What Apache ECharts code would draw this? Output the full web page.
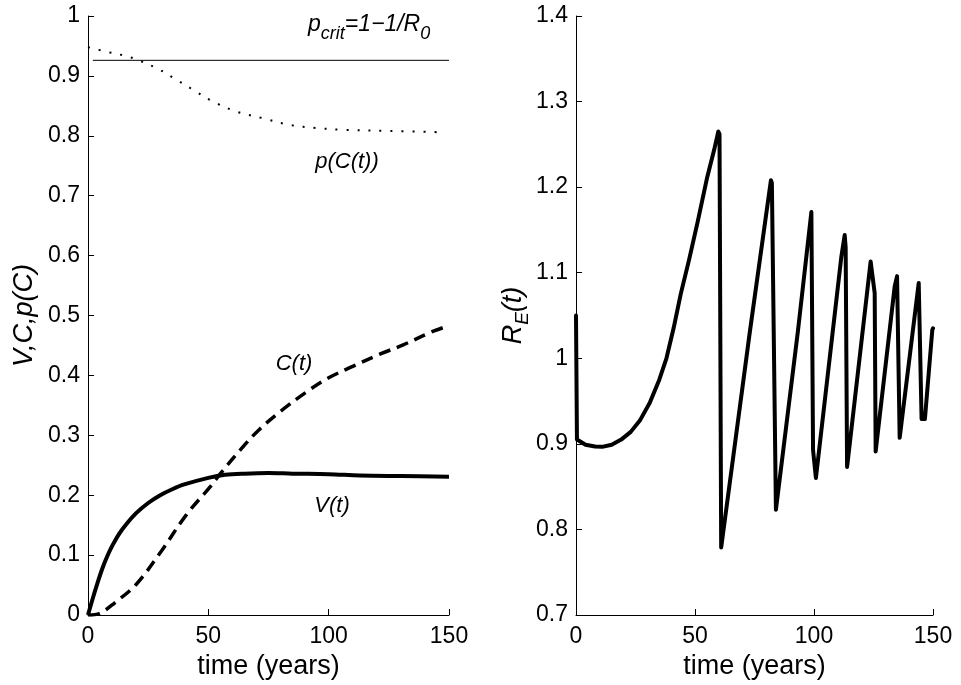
<!DOCTYPE html>
<html>
<head>
<meta charset="utf-8">
<script src="https://cdn.jsdelivr.net/npm/echarts@6/dist/echarts.min.js"></script>
<style>
html,body{margin:0;padding:0;background:#fff;}
#chart{width:961px;height:685px;}
</style>
</head>
<body>
<div id="chart"></div>
<script>
// ---- Left panel data ----
const xTicks = [0, 50, 100, 150];
const pcritT = [2, 150];
const pcritV = [0.926, 0.926];
const pT = [0, 8, 16, 21, 29, 37, 44, 52, 62, 73, 84, 95, 106, 126, 146];
const pV = [0.948, 0.940, 0.933, 0.926, 0.912, 0.893, 0.876, 0.857, 0.840, 0.829, 0.818, 0.813, 0.810, 0.808, 0.806];
const cT = [0, 5, 11, 20, 30, 41, 51, 55, 64, 71, 80, 91, 100, 110, 121, 131, 143, 150];
const cV = [0, 0.003, 0.020, 0.051, 0.104, 0.168, 0.215, 0.236, 0.279, 0.309, 0.340, 0.373, 0.396, 0.415, 0.435, 0.451, 0.473, 0.483];
const vT = [0, 2, 4, 6, 8, 10, 13, 16, 20, 25, 30, 35, 40, 50, 57, 65, 75, 85, 100, 113, 130, 150];
const vV = [0, 0.028, 0.054, 0.078, 0.098, 0.115, 0.136, 0.152, 0.170, 0.187, 0.200, 0.210, 0.218, 0.229, 0.234, 0.236, 0.237, 0.236, 0.235, 0.233, 0.232, 0.231];
// ---- Right panel data ----
const reT = [0, 0.4, 4, 8, 11, 15, 19, 23, 27, 31, 35, 38, 41, 44, 47.5, 51, 55, 58, 59.8, 60.3, 61.0, 73, 81.9, 82.3, 84.0, 93.3, 98.9, 99.6, 100.8, 111.5, 112.9, 113.3, 113.9, 123.8, 125.5, 125.9, 133.9, 134.9, 136.0, 144.0, 145.2, 146.6, 149.7, 150];
const reV = [1.05, 0.905, 0.899, 0.897, 0.8965, 0.899, 0.905, 0.914, 0.928, 0.948, 0.975, 1.0, 1.035, 1.075, 1.115, 1.158, 1.21, 1.243, 1.265, 1.262, 0.779, 1.03, 1.208, 1.205, 0.823, 1.033, 1.171, 0.893, 0.860, 1.119, 1.144, 1.13, 0.873, 1.113, 1.076, 0.891, 1.084, 1.096, 0.907, 1.088, 0.929, 0.929, 1.033, 1.035];

const zip = (a, b) => a.map((t, i) => [t, b[i]]);
const FONT = '"Liberation Sans", Arial, Helvetica, sans-serif';

function xAxisCfg(idx) {
  return {
    gridIndex: idx, type: 'value', min: 0, max: 150, interval: 50,
    axisLine: { onZero: false, lineStyle: { color: '#000', width: 1 } },
    axisTick: { inside: true, length: 6, lineStyle: { color: '#000' } },
    axisLabel: { color: '#000', fontSize: 23, fontFamily: FONT, margin: 10 },
    splitLine: { show: false },
    name: 'time (years)', nameLocation: 'middle', nameGap: 38,
    nameTextStyle: { color: '#000', fontSize: 27, fontFamily: FONT }
  };
}
function yAxisCfg(idx, min, max, name, nameGap, rich) {
  return {
    gridIndex: idx, type: 'value', min: min, max: max, interval: 0.1,
    axisLine: { onZero: false, lineStyle: { color: '#000', width: 1 } },
    axisTick: { inside: true, length: 6, lineStyle: { color: '#000' } },
    axisLabel: { color: '#000', fontSize: 23, fontFamily: FONT, margin: 8 },
    splitLine: { show: false },
    name: name, nameLocation: 'middle', nameGap: nameGap, nameRotate: 90,
    nameTextStyle: Object.assign({ color: '#000', fontSize: 27, fontStyle: 'italic', fontFamily: FONT }, rich ? { rich: rich } : {})
  };
}

const chart = echarts.init(document.getElementById('chart'), null, { renderer: 'canvas' });
const option = {
  animation: false,
  backgroundColor: '#fff',
  grid: [
    { left: 88, top: 16, width: 361, height: 600 },
    { left: 576, top: 16, width: 357, height: 600 }
  ],
  xAxis: [xAxisCfg(0), xAxisCfg(1)],
  yAxis: [
    yAxisCfg(0, 0, 1, 'V,C,p(C)', 50),
    yAxisCfg(1, 0.7, 1.4, '{i|R}{s|E}{i|(t)}', 44, {
      i: { fontSize: 27, fontStyle: 'italic', fontFamily: FONT, color: '#000', lineHeight: 30 },
      s: { fontSize: 19, fontStyle: 'italic', fontFamily: FONT, color: '#000', lineHeight: 19, padding: [18, 0, 0, 0] }
    })
  ],
  series: [
    { type: 'line', xAxisIndex: 0, yAxisIndex: 0, data: zip(pcritT, pcritV), showSymbol: false, symbol: 'none',
      lineStyle: { color: '#000', width: 1 } },
    { type: 'line', xAxisIndex: 0, yAxisIndex: 0, data: zip(pT, pV), showSymbol: false, symbol: 'none',
      smooth: 0.35, lineStyle: { color: '#000', width: 2, type: [2, 9] } },
    { type: 'line', xAxisIndex: 0, yAxisIndex: 0, data: zip(cT, cV), showSymbol: false, symbol: 'none',
      smooth: 0.35, lineStyle: { color: '#000', width: 3.5, type: [12, 7] } },
    { type: 'line', xAxisIndex: 0, yAxisIndex: 0, data: zip(vT, vV), showSymbol: false, symbol: 'none',
      smooth: 0.35, lineStyle: { color: '#000', width: 4 } },
    { type: 'line', xAxisIndex: 1, yAxisIndex: 1, data: zip(reT, reV), showSymbol: false, symbol: 'none',
      lineStyle: { color: '#000', width: 4, join: 'round', cap: 'round' } }
  ],
  graphic: [
    { type: 'text', x: 308, y: 12, z: 100, style: {
        text: '{m|p}{s|crit}{m|=1−1/R}{s|0}', fill: '#000', align: 'left', verticalAlign: 'top',
        rich: {
          m: { fontSize: 23, fontStyle: 'italic', fontFamily: FONT, fill: '#000', lineHeight: 25 },
          s: { fontSize: 18, fontStyle: 'italic', fontFamily: FONT, fill: '#000', lineHeight: 18, padding: [18, 0, 0, 0] }
        } } },
    { type: 'text', x: 347, y: 162, z: 100, style: { text: 'p(C(t))', fill: '#000', fontSize: 22, fontStyle: 'italic', fontFamily: FONT, align: 'center', verticalAlign: 'middle' } },
    { type: 'text', x: 294, y: 364, z: 100, style: { text: 'C(t)', fill: '#000', fontSize: 22, fontStyle: 'italic', fontFamily: FONT, align: 'center', verticalAlign: 'middle' } },
    { type: 'text', x: 332, y: 506, z: 100, style: { text: 'V(t)', fill: '#000', fontSize: 22, fontStyle: 'italic', fontFamily: FONT, align: 'center', verticalAlign: 'middle' } }
  ]
};
chart.setOption(option);
</script>
</body>
</html>
